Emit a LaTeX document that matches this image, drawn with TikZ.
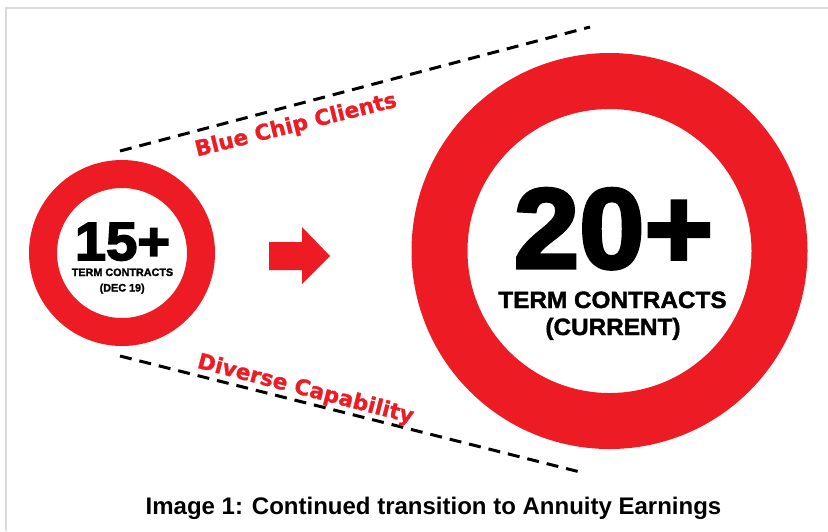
\documentclass[tikz,border=0pt]{standalone}
\usepackage{fontspec}
\setmainfont{Liberation Sans}
\newfontfamily\heavyfont{Liberation Sans Bold}[FakeBold=1.6]
\newfontfamily\blackfont{Liberation Sans Bold}[FakeBold=3]
\newfontfamily\tagfont{DejaVu Sans Bold}[FakeBold=1.2]
\usetikzlibrary{positioning}
\definecolor{ringred}{RGB}{237,28,36}
\definecolor{framegray}{RGB}{217,217,217}
\tikzset{
  ring/.style={circle,draw=ringred,fill=white,inner sep=0pt},
  guide/.style={line width=1.5pt,dash pattern=on 6pt off 4pt},
  tag/.style={text=ringred,font=\tagfont\fontsize{10.8}{13}\selectfont,anchor=base,inner sep=0pt},
  count/.style={anchor=base,inner sep=0pt,font=\blackfont\fontsize{#1}{#1}\selectfont},
  sub/.style={anchor=base,inner sep=0pt,font=\heavyfont\fontsize{#1}{#1}\selectfont}
}

\begin{document}
\begin{tikzpicture}[x=.5pt,y=-.5pt]
  \useasboundingbox (0,0) rectangle (828,531);
  % frame
  \draw[framegray,line width=1pt] (6,531) -- (6,8) -- (828,8);
  % dashed guides
  \coordinate (ul) at (120,151);
  \coordinate (ur) at (590,27);
  \coordinate (ll) at (120,356);
  \coordinate (lr) at (580,472);
  \draw[guide] (ul) -- (ur);
  \draw[guide] (ll) -- (lr);
  \node[tag,rotate=14] (blue) at (297.5,131.5) {Blue Chip Clients};
  \node[tag,rotate=-14.5] (div) at (304,395.5) {Diverse Capability};
  % rings
  \node[ring,line width=14pt,minimum size=79pt] (dec) at (122,253) {};
  \node[ring,line width=28pt,minimum size=170pt] (now) at (609.5,251) {};
  % small ring text
  \node[count=27,xscale=1.04] (n15) at (122.5,260) {15+};
  \node[sub=5.4] (t15) at (122.5,276) {TERM CONTRACTS};
  \node[sub=5.4] (d15) at (122.2,291.5) {(DEC 19)};
  % big ring text
  \node[count=57,xscale=1.03] (n20) at (613.5,268) {20+};
  \node[sub=11.8,xscale=1.03] (t20) at (612.5,308) {TERM CONTRACTS};
  \node[sub=11.8,xscale=1.03] (c20) at (613,335) {(CURRENT)};
  % arrow
  \fill[ringred] (269,242) -- (302,242) -- (302,227) -- (330,256) -- (302,284) -- (302,270) -- (269,270) -- cycle;
  % caption
  \node[anchor=base,inner sep=0pt,font=\bfseries\fontsize{12}{14}\selectfont] (cap) at (433.5,514) {Image 1: Continued transition to Annuity Earnings};
\end{tikzpicture}
\end{document}
